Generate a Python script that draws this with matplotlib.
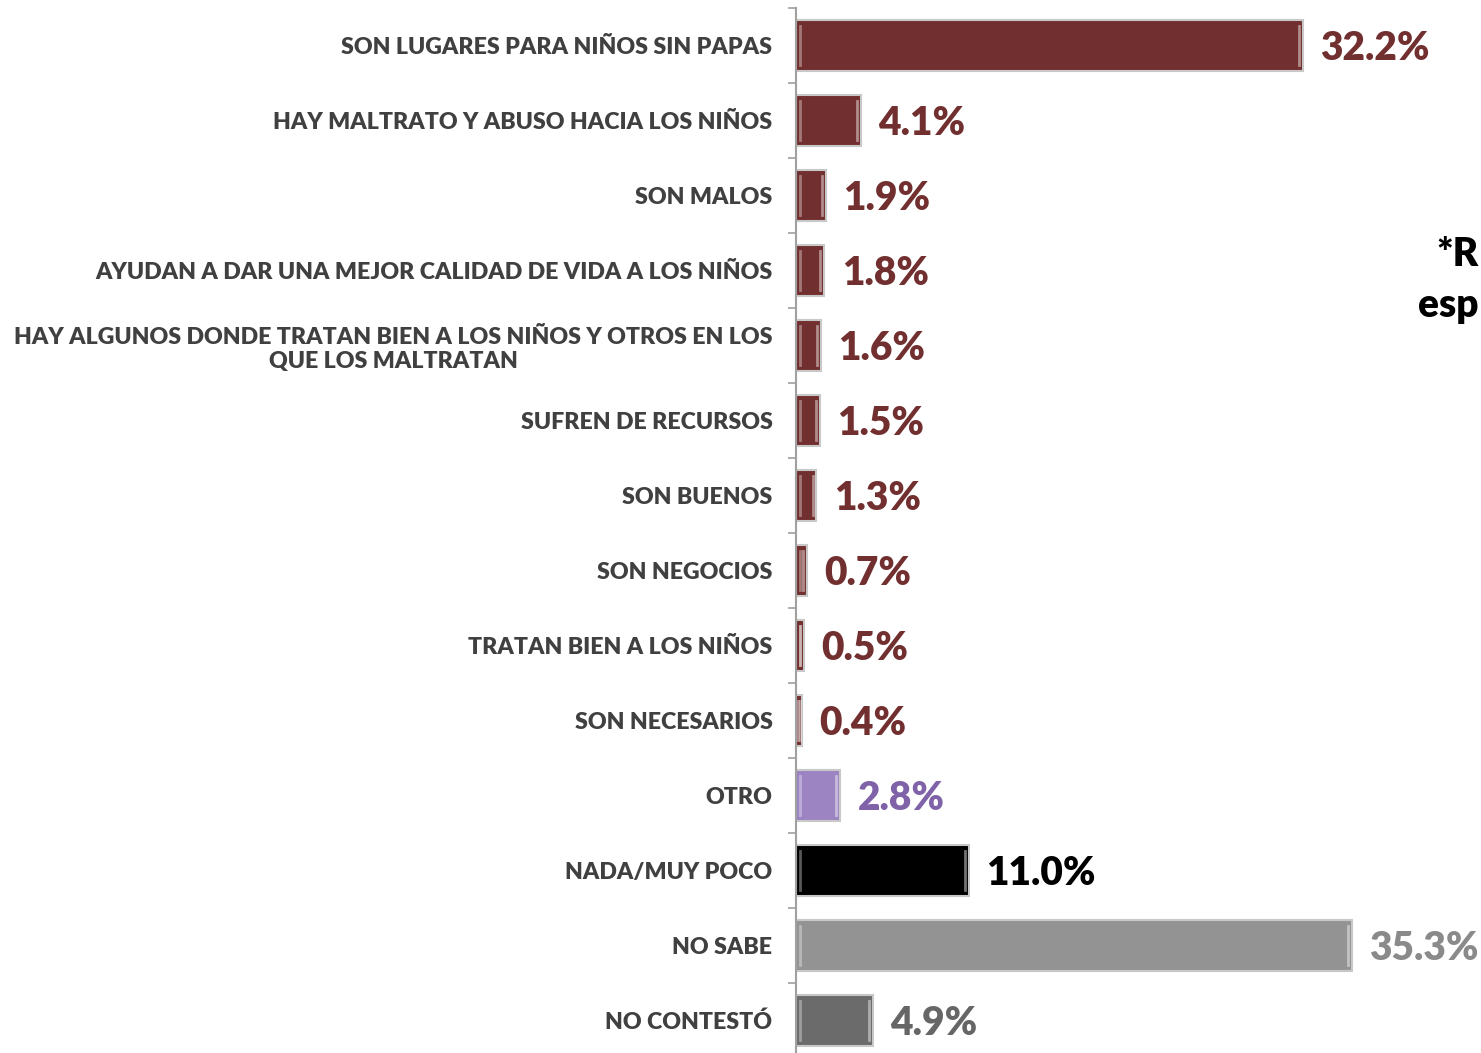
import numpy as np
import matplotlib.pyplot as plt

# Data
categories = [
    'SON LUGARES PARA NIÑOS SIN PAPAS',
    'HAY MALTRATO Y ABUSO HACIA LOS NIÑOS',
    'SON MALOS',
    'AYUDAN A DAR UNA MEJOR CALIDAD DE VIDA A LOS NIÑOS',
    'HAY ALGUNOS DONDE TRATAN BIEN A LOS NIÑOS Y OTROS EN LOS\nQUE LOS MALTRATAN',
    'SUFREN DE RECURSOS',
    'SON BUENOS',
    'SON NEGOCIOS',
    'TRATAN BIEN A LOS NIÑOS',
    'SON NECESARIOS',
    'OTRO',
    'NADA/MUY POCO',
    'NO SABE',
    'NO CONTESTÓ',
]
values = [32.2, 4.1, 1.9, 1.8, 1.6, 1.5, 1.3, 0.7, 0.5, 0.4, 2.8, 11.0, 35.3, 4.9]

maroon = '#722F2F'
bar_colors = [maroon] * 10 + ['#9C84C2', '#000000', '#939393', '#6B6B6B']
label_colors = [maroon] * 10 + ['#7F62A8', '#000000', '#8A8A8A', '#666666']

plt.rcParams['font.family'] = ['Lato', 'DejaVu Sans']

fig = plt.figure(figsize=(14.81, 10.53), dpi=100)
fig.patch.set_facecolor('white')

ax = fig.add_axes([796 / 1481, -5 / 1053, 685 / 1481, 1050 / 1053])
ax.patch.set_alpha(0)

y = np.arange(len(categories))
bars = ax.barh(y, values, height=0.67, color=bar_colors, edgecolor='#c8c8c8', linewidth=1.5)

# bevel highlight on the bar ends
for b in bars:
    w = b.get_width()
    ax.plot([w - 0.25, w - 0.25], [b.get_y() + 0.08, b.get_y() + b.get_height() - 0.08],
            color='white', alpha=0.45, lw=2)
    ax.plot([0.25, 0.25], [b.get_y() + 0.08, b.get_y() + b.get_height() - 0.08],
            color='white', alpha=0.35, lw=2)

for yi, v, c in zip(y, values, label_colors):
    ax.text(v + 1.1, yi + 0.04, f'{v:.1f}%', color=c, fontsize=28, fontweight='heavy',
            va='center', ha='left')

ax.set_xlim(0, 685 / 15.75)
ax.set_ylim(len(categories) - 0.5, -0.5)

ax.set_yticks(y)
ax.set_yticklabels(categories, fontsize=16.7, fontweight='heavy', color='#404040',
                   multialignment='center')
ax.tick_params(axis='y', length=0, pad=17)
ax.set_yticks(np.arange(len(categories) + 1) - 0.5, minor=True)
ax.tick_params(axis='y', which='minor', length=6, color='#a0a0a0', width=1.2)
ax.set_xticks([])

for s in ['top', 'right', 'bottom']:
    ax.spines[s].set_visible(False)
ax.spines['left'].set_color('#a0a0a0')
ax.spines['left'].set_linewidth(1.5)

# cut-off note at the right edge
fig.text(1436 / 1481, 1 - 255 / 1053, '*R', fontsize=28, fontweight='heavy', color='black',
         ha='left', va='center')
fig.text(1418 / 1481, 1 - 305 / 1053, 'esp', fontsize=28, fontweight='heavy', color='black',
         ha='left', va='center')

fig.savefig('out.png', dpi=100)
